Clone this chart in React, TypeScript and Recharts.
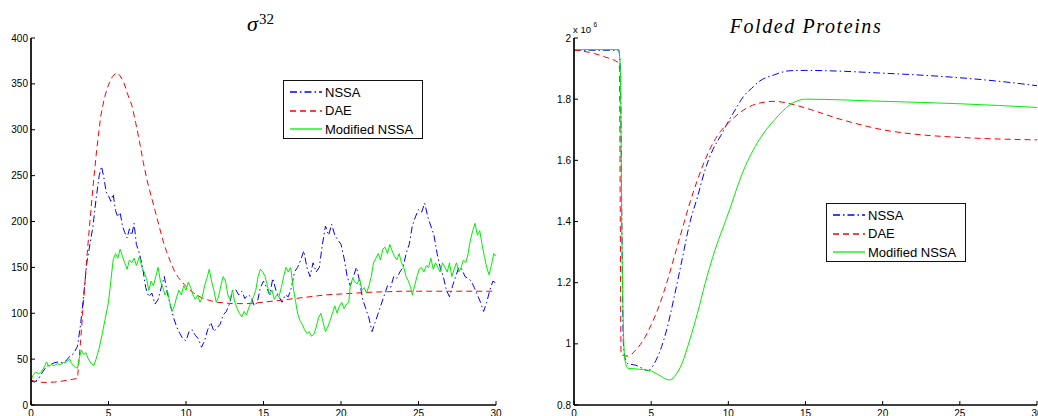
import React from 'react';
import { LineChart, Line, XAxis, YAxis } from 'recharts';

// time ticks shared by both panels
const xTicks = [0, 5, 10, 15, 20, 25, 30];
const sigmaTicks = [0, 50, 100, 150, 200, 250, 300, 350, 400];
const foldedTicks = [0.8, 1, 1.2, 1.4, 1.6, 1.8, 2];

// sigma^32 panel, [t, value]
const sigmaNSSA = [
  [0, 26], [0.25, 25], [0.5, 29], [0.75, 36], [1, 42], [1.25, 44], [1.5, 46], [1.75, 47], [2, 46], [2.25, 48],
  [2.5, 53], [2.75, 56], [3, 64], [3.2, 88], [3.4, 120], [3.6, 155], [3.8, 175], [4, 195], [4.2, 225], [4.4, 250],
  [4.55, 260], [4.7, 248], [4.85, 232], [5, 228], [5.15, 222], [5.3, 230], [5.45, 212], [5.6, 205], [5.75, 210],
  [5.9, 195], [6.05, 188], [6.2, 182], [6.35, 192], [6.5, 185], [6.65, 198], [6.8, 175], [7, 165], [7.2, 150],
  [7.4, 128], [7.6, 118], [7.8, 122], [8, 110], [8.2, 115], [8.4, 128], [8.6, 140], [8.8, 122], [9, 108], [9.2, 95],
  [9.4, 85], [9.6, 78], [9.8, 72], [10, 70], [10.2, 80], [10.4, 82], [10.6, 76], [10.8, 72], [11, 63], [11.2, 70],
  [11.4, 82], [11.6, 90], [11.8, 80], [12, 84], [12.2, 88], [12.4, 98], [12.6, 102], [12.8, 110], [13, 124],
  [13.2, 126], [13.4, 120], [13.6, 124], [13.8, 116], [14, 120], [14.2, 118], [14.4, 108], [14.6, 112], [14.8, 128],
  [15, 135], [15.2, 128], [15.4, 120], [15.6, 138], [15.8, 125], [16, 118], [16.2, 112], [16.4, 120], [16.6, 118],
  [16.8, 128], [17, 145], [17.2, 150], [17.4, 158], [17.6, 168], [17.8, 150], [18, 140], [18.2, 155], [18.4, 145],
  [18.6, 150], [18.8, 175], [19, 195], [19.2, 185], [19.4, 197], [19.6, 185], [19.8, 180], [20, 175], [20.2, 160],
  [20.4, 140], [20.6, 130], [20.8, 140], [21, 150], [21.2, 135], [21.4, 115], [21.6, 105], [21.8, 95], [22, 80],
  [22.2, 90], [22.4, 100], [22.6, 110], [22.8, 120], [23, 130], [23.2, 128], [23.4, 140], [23.6, 138], [23.8, 145],
  [24, 150], [24.2, 165], [24.4, 175], [24.6, 195], [24.8, 205], [25, 213], [25.2, 210], [25.4, 220], [25.6, 205],
  [25.8, 195], [26, 185], [26.2, 165], [26.4, 150], [26.6, 140], [26.8, 125], [27, 118], [27.2, 130], [27.4, 140],
  [27.6, 150], [27.8, 148], [28, 140], [28.2, 138], [28.4, 135], [28.6, 128], [28.8, 120], [29, 112], [29.2, 102],
  [29.4, 112], [29.6, 125], [29.8, 135], [30, 133],
];

const sigmaDAE = [
  [0, 27], [0.5, 25], [1, 24.5], [1.5, 25], [2, 26], [2.5, 27.5], [3, 29], [3.02, 33], [3.2, 70], [3.4, 115],
  [3.6, 160], [3.8, 200], [4, 238], [4.25, 280], [4.5, 315], [4.75, 336], [5, 349], [5.25, 358], [5.5, 362],
  [5.75, 359], [6, 351], [6.25, 338], [6.5, 327], [6.75, 308], [7, 287], [7.25, 264], [7.5, 244], [7.75, 228],
  [8, 212], [8.25, 196], [8.5, 180], [8.75, 167], [9, 156], [9.25, 146], [9.5, 139], [10, 129], [10.5, 122],
  [11, 117], [11.5, 114], [12, 112], [13, 110.5], [14, 110.5], [15, 112], [16, 114], [17, 116], [18, 118],
  [19, 120], [20, 121], [21, 122], [22, 123], [23, 123.5], [24, 124], [25, 124], [27, 124], [30, 124],
];

const sigmaModified = [
  [0, 27], [0.15, 33], [0.3, 36], [0.5, 34], [0.7, 37], [0.9, 43], [1, 47], [1.15, 42], [1.3, 44], [1.5, 43],
  [1.7, 45], [1.9, 44], [2.1, 46], [2.3, 47], [2.5, 50], [2.6, 46], [2.8, 42], [3, 40], [3.1, 50], [3.25, 60],
  [3.4, 55], [3.55, 57], [3.7, 50], [3.9, 45], [4.05, 43], [4.2, 50], [4.4, 62], [4.6, 78], [4.8, 95], [5, 112],
  [5.15, 135], [5.3, 158], [5.45, 165], [5.6, 160], [5.75, 170], [5.9, 162], [6.05, 155], [6.2, 148], [6.35, 158],
  [6.5, 155], [6.65, 160], [6.8, 152], [7, 162], [7.15, 150], [7.3, 145], [7.45, 138], [7.6, 125], [7.75, 135],
  [7.9, 130], [8.05, 140], [8.2, 150], [8.35, 135], [8.5, 128], [8.65, 120], [8.8, 125], [8.95, 112], [9.1, 102],
  [9.25, 108], [9.4, 118], [9.55, 125], [9.7, 120], [9.85, 130], [10, 125], [10.15, 134], [10.3, 128], [10.45, 120],
  [10.6, 115], [10.75, 120], [10.9, 112], [11.05, 118], [11.2, 130], [11.35, 138], [11.5, 148], [11.65, 135],
  [11.8, 125], [11.95, 112], [12.1, 118], [12.25, 130], [12.4, 140], [12.55, 135], [12.7, 120], [12.85, 115],
  [13, 125], [13.15, 112], [13.3, 105], [13.45, 100], [13.6, 96], [13.75, 102], [13.9, 98], [14.05, 106],
  [14.2, 112], [14.35, 118], [14.5, 125], [14.65, 140], [14.8, 148], [14.95, 145], [15.1, 140], [15.25, 130],
  [15.4, 120], [15.55, 125], [15.7, 115], [15.85, 120], [16, 118], [16.15, 128], [16.3, 140], [16.45, 150],
  [16.6, 145], [16.75, 150], [16.9, 130], [17.05, 115], [17.2, 100], [17.35, 92], [17.5, 88], [17.65, 82],
  [17.8, 78], [17.95, 80], [18.1, 75], [18.25, 77], [18.4, 85], [18.55, 95], [18.7, 100], [18.85, 90], [19, 80],
  [19.15, 85], [19.3, 92], [19.45, 100], [19.6, 108], [19.75, 100], [19.9, 108], [20.05, 112], [20.2, 105],
  [20.35, 110], [20.5, 112], [20.6, 130], [20.75, 138], [20.9, 134], [21.05, 132], [21.2, 138], [21.35, 125],
  [21.5, 128], [21.65, 122], [21.8, 130], [21.95, 140], [22.1, 155], [22.25, 160], [22.4, 165], [22.55, 158],
  [22.7, 170], [22.85, 172], [23, 165], [23.15, 175], [23.3, 168], [23.45, 162], [23.6, 158], [23.75, 165],
  [23.9, 155], [24.05, 150], [24.2, 140], [24.35, 135], [24.5, 128], [24.6, 120], [24.75, 130], [24.9, 140],
  [25.05, 148], [25.2, 150], [25.35, 145], [25.5, 152], [25.65, 150], [25.8, 160], [25.95, 148], [26.1, 155],
  [26.25, 150], [26.4, 145], [26.55, 155], [26.7, 150], [26.85, 145], [27, 155], [27.15, 140], [27.3, 148],
  [27.45, 155], [27.6, 145], [27.75, 150], [27.9, 158], [28.05, 155], [28.2, 165], [28.35, 180], [28.5, 190],
  [28.65, 198], [28.8, 185], [28.95, 190], [29.1, 175], [29.25, 162], [29.4, 150], [29.55, 142], [29.7, 152],
  [29.85, 165], [30, 162],
];

// folded proteins panel (x 10^6), [t, value]
const foldedNSSA = [
  [0, 1.96], [1, 1.96], [2, 1.96], [2.9, 1.96], [3.0, 1.9], [3.1, 1.4], [3.2, 1.0], [3.35, 0.945], [3.5, 0.935],
  [4, 0.93], [4.5, 0.918], [4.8, 0.912], [5, 0.92], [5.3, 0.945], [5.6, 0.98], [6, 1.045], [6.5, 1.155],
  [7, 1.275], [7.5, 1.395], [8, 1.48], [8.5, 1.57], [9, 1.635], [9.5, 1.68], [10, 1.727], [10.5, 1.77],
  [11, 1.81], [11.5, 1.835], [12, 1.858], [13, 1.88], [14, 1.893], [15, 1.894], [17, 1.892], [20, 1.885],
  [22, 1.88], [25, 1.87], [28, 1.856], [30, 1.844],
];

const foldedDAE = [
  [0, 1.96], [1, 1.953], [2, 1.938], [2.9, 1.918], [2.95, 1.9], [3.0, 1.4], [3.05, 0.965], [3.5, 0.96],
  [4, 0.98], [4.5, 1.013], [5, 1.062], [5.5, 1.122], [6, 1.198], [6.5, 1.285], [7, 1.373], [7.5, 1.46],
  [8, 1.536], [8.5, 1.602], [9, 1.656], [9.5, 1.695], [10, 1.722], [11, 1.765], [12, 1.787], [13, 1.793],
  [14, 1.785], [15, 1.771], [16, 1.755], [17, 1.738], [18, 1.724], [19, 1.711], [20, 1.7], [22, 1.686],
  [25, 1.675], [28, 1.669], [30, 1.667],
];

const foldedModified = [
  [0, 1.962], [2.9, 1.962], [3.0, 1.9], [3.1, 1.36], [3.2, 1.05], [3.3, 0.947], [3.5, 0.92], [4, 0.918],
  [5, 0.911], [5.5, 0.898], [6, 0.884], [6.2, 0.882], [6.5, 0.893], [7, 0.936], [7.5, 1.013], [8, 1.1],
  [8.5, 1.198], [9, 1.285], [10, 1.427], [11, 1.569], [12, 1.667], [13, 1.733], [13.5, 1.76], [14, 1.782],
  [14.5, 1.795], [15, 1.8], [20, 1.793], [25, 1.785], [30, 1.773],
];

const toRows = (a: number[][]) => a.map(([t, v]) => ({ t, v }));

const FONT = '"Liberation Sans", Arial, Helvetica, sans-serif';
const SERIF = '"Liberation Serif", "Times New Roman", serif';

const series = [
  { name: 'NSSA', color: '#0000ff', dash: '7 3 1.5 3' },
  { name: 'DAE', color: '#ff0000', dash: '6 4' },
  { name: 'Modified NSSA', color: '#00ee00', dash: undefined },
];

function LegendBox({ left, top }: { left: number; top: number }) {
  return (
    <div
      style={{
        position: 'absolute', left, top, width: 140, height: 59, background: '#fff',
        border: '1.5px solid #111', boxSizing: 'border-box', fontFamily: FONT, fontSize: 13,
        paddingTop: 2,
      }}
    >
      {series.map((s) => (
        <div key={s.name} style={{ display: 'flex', alignItems: 'center', height: 18.5 }}>
          <svg width={38} height={10} style={{ marginLeft: 5 }}>
            <line x1={1} y1={5} x2={33} y2={5} stroke={s.color} strokeWidth={1.3} strokeDasharray={s.dash} />
          </svg>
          <span style={{ marginLeft: -2, color: '#000' }}>{s.name}</span>
        </div>
      ))}
    </div>
  );
}

function Axes({ yTicks, yDomain, yWidth }: { yTicks: number[]; yDomain: number[]; yWidth: number }) {
  const tick = { fill: '#000', fontSize: 10, fontFamily: FONT };
  const thick = { stroke: '#000', strokeWidth: 1.7 };
  const thin = { stroke: '#000', strokeWidth: 1 };
  return [
    <XAxis key="xb" xAxisId="b" type="number" dataKey="t" domain={[0, 30]} ticks={xTicks} interval={0}
      height={11} tickSize={-4} tickMargin={9} tick={tick} axisLine={thick} tickLine={{ stroke: '#000' }} allowDataOverflow />,
    <XAxis key="xt" xAxisId="t" orientation="top" type="number" dataKey="t" domain={[0, 30]} ticks={xTicks} interval={0}
      height={0} tickSize={-4} tickFormatter={() => ''} axisLine={thin} tickLine={{ stroke: '#000' }} allowDataOverflow />,
    <YAxis key="yl" yAxisId="l" type="number" domain={yDomain} ticks={yTicks} interval={0} width={yWidth}
      tickSize={-4} tickMargin={7} tick={tick} tickFormatter={(v: number) => String(v)} axisLine={thick}
      tickLine={{ stroke: '#000' }} allowDataOverflow />,
    <YAxis key="yr" yAxisId="r" orientation="right" type="number" domain={yDomain} ticks={yTicks} interval={0} width={0}
      tickSize={-4} tickFormatter={() => ''} axisLine={thin} tickLine={{ stroke: '#000' }} allowDataOverflow />,
  ];
}

export default function App() {
  const sets1 = [sigmaNSSA, sigmaDAE, sigmaModified];
  const sets2 = [foldedNSSA, foldedDAE, foldedModified];
  return (
    <div style={{ position: 'absolute', left: 0, top: 0, width: 1038, height: 416, background: '#fff', overflow: 'hidden' }}>
      <div style={{ position: 'absolute', left: 0, top: 0 }}>
        <LineChart width={520} height={416} margin={{ top: 38, right: 24, bottom: 0, left: 0 }}>
          {Axes({ yTicks: sigmaTicks, yDomain: [0, 400], yWidth: 31 })}
          {series.map((s, i) => (
            <Line key={s.name} xAxisId="b" yAxisId="l" data={toRows(sets1[i])} dataKey="v" name={s.name}
              type="linear" stroke={s.color} strokeWidth={1} strokeDasharray={s.dash} dot={false}
              isAnimationActive={false} />
          ))}
        </LineChart>
      </div>
      <div style={{ position: 'absolute', left: 520, top: 0 }}>
        <LineChart width={518} height={416} margin={{ top: 38, right: 1, bottom: 0, left: 0 }}>
          {Axes({ yTicks: foldedTicks, yDomain: [0.8, 2], yWidth: 54 })}
          {series.map((s, i) => (
            <Line key={s.name} xAxisId="b" yAxisId="l" data={toRows(sets2[i])} dataKey="v" name={s.name}
              type="monotone" stroke={s.color} strokeWidth={1} strokeDasharray={s.dash} dot={false}
              isAnimationActive={false} />
          ))}
        </LineChart>
      </div>
      <LegendBox left={283} top={80} />
      <LegendBox left={826} top={203} />
      <svg width={1038} height={416} style={{ position: 'absolute', left: 0, top: 0, pointerEvents: 'none' }}>
        <text x={247} y={31} fontFamily={SERIF} fontStyle="italic" fontSize={22}>σ</text>
        <text x={259} y={24} fontFamily={SERIF} fontSize={15}>32</text>
        <text x={806} y={33} textAnchor="middle" fontFamily={SERIF} fontStyle="italic" fontSize={20} letterSpacing={1.6}>
          Folded Proteins
        </text>
        <text x={573} y={33} fontFamily={FONT} fontSize={9.5}>x 10</text>
        <text x={593.5} y={27} fontFamily={FONT} fontSize={6.5}>6</text>
      </svg>
    </div>
  );
}
